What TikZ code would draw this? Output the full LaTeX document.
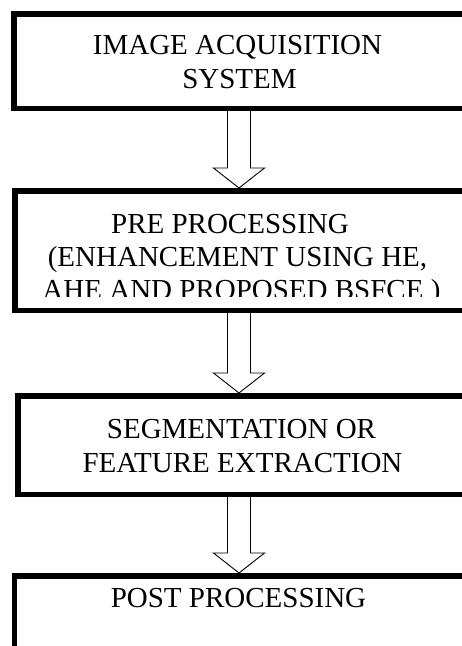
\documentclass[tikz,border=0pt]{standalone}
\usepackage{fontspec}
\setmainfont{Liberation Serif}
\usetikzlibrary{calc}
\begin{document}
\begin{tikzpicture}[x=1pt,y=-1pt,
  box/.style={draw=black,line width=5.5pt,inner sep=0pt,outer sep=0pt,anchor=north west,fill=none},
  lbl/.style={anchor=base,inner sep=0pt,font=\fontsize{29}{34}\selectfont},
  blk/.style={draw=black,line width=0.9pt,fill=white,line join=miter}]
\useasboundingbox (0,0) rectangle (462,646);
\clip (0,0) rectangle (462,646);
\fill[white] (0,0) rectangle (462,646);
% boxes
\node[box,minimum width=470pt,minimum height=94.5pt] (b1) at (13.75,13.75) {};
\node[box,minimum width=470pt,minimum height=119.5pt] (b2) at (14.75,190.75) {};
\node[box,minimum width=470pt,minimum height=98.5pt] (b3) at (17.75,395.75) {};
\node[box,minimum width=470pt,minimum height=120pt] (b4) at (14.25,575.75) {};
\coordinate (ax) at (239,0);
% block arrows
\foreach \a/\b in {b1/b2,b2/b3,b3/b4}{
  \draw[blk] let \p1=(\a.south -| ax), \p2=(\b.north -| ax) in
    (\x1-11.5pt,\y1-2.75pt) -- (\x1-11.5pt,\y2+22.75pt) -- (\x1-25.5pt,\y2+22.75pt)
    -- (\x1,\y2+2.75pt) -- (\x1+25.5pt,\y2+22.75pt) -- (\x1+11.5pt,\y2+22.75pt)
    -- (\x1+11.5pt,\y1-2.75pt);
}
% texts
\node[lbl] (t1a) at (237.5,54) {IMAGE ACQUISITION};
\node[lbl] (t1b) at (239.5,88.5) {SYSTEM};
\node[lbl] (t2a) at (230,233) {PRE PROCESSING};
\node[lbl] (t2b) at (237.5,266) {(ENHANCEMENT USING HE,};
\begin{scope}
\clip (0,188) rectangle (462,296.5);
\node[lbl] (t2c) at (241.5,299) {AHE AND PROPOSED BSFCE )};
\end{scope}
\node[lbl] (t3a) at (241.5,438) {SEGMENTATION OR};
\node[lbl] (t3b) at (242.5,472) {FEATURE EXTRACTION};
\node[lbl] (t4a) at (238.5,607) {POST PROCESSING};
\end{tikzpicture}
\end{document}
